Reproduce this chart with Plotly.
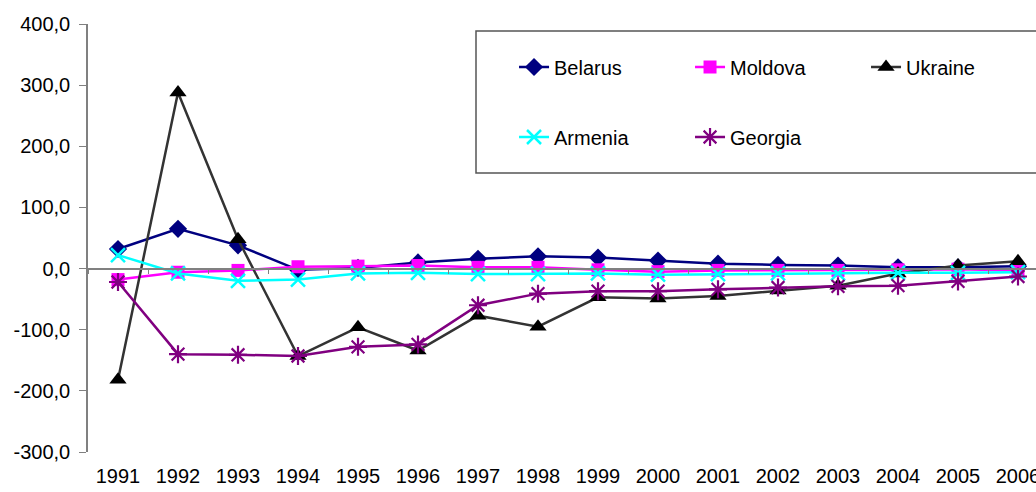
import plotly.graph_objects as go

years = [str(y) for y in range(1991, 2007)]
belarus = [32, 65, 38, -2, 1, 10, 16, 20, 18, 13, 8, 6, 5, 2, 2, 4]
moldova = [-18, -6, -3, 3, 4, 5, 2, 2, -2, -5, -3, -3, -3, -2, -1, -3]
ukraine = [-182, 288, 48, -143, -96, -134, -77, -95, -47, -49, -45, -36, -28, -8, 5, 12]
armenia = [22, -8, -20, -18, -8, -7, -9, -9, -8, -10, -9, -8, -8, -7, -7, -6]
georgia = [-22, -140, -141, -143, -128, -124, -60, -41, -37, -37, -34, -31, -29, -28, -21, -13]

y_ticks = [-300, -200, -100, 0, 100, 200, 300, 400]
y_ticktext = ["-300,0", "-200,0", "-100,0", "0,0", "100,0", "200,0", "300,0", "400,0"]

FONT = "Liberation Sans, Arial, sans-serif"
FS = 20

fig = go.Figure()

series = [
    ("Belarus", belarus, "#000080", dict(symbol="diamond", size=14, color="#000080"), "legend"),
    ("Moldova", moldova, "#FF00FF", dict(symbol="square", size=13, color="#FF00FF"), "legend"),
    ("Ukraine", ukraine, "#333333", dict(symbol="triangle-up", size=15, color="#000000"), "legend"),
    ("Armenia", armenia, "#00FFFF",
     dict(symbol="x-thin-open", size=14, color="#00FFFF", line=dict(width=2.5, color="#00FFFF")), "legend2"),
    ("Georgia", georgia, "#800080",
     dict(symbol="asterisk-open", size=15, color="#800080", line=dict(width=2.2, color="#800080")), "legend2"),
]

for name, vals, lc, marker, leg in series:
    fig.add_trace(go.Scatter(
        x=years, y=vals, name=name, mode="lines+markers",
        line=dict(color=lc, width=2.5), marker=marker, legend=leg,
        cliponaxis=False,
    ))

fig.update_layout(
    width=1036, height=492,
    margin=dict(l=88, r=0, t=24, b=40, autoexpand=False),
    paper_bgcolor="white", plot_bgcolor="white",
    font=dict(family=FONT, size=FS, color="#000000"),
    showlegend=True,
    legend=dict(orientation="h", x=0.4494, y=0.8995, xanchor="left", yanchor="middle",
                bgcolor="rgba(0,0,0,0)", entrywidthmode="pixels", entrywidth=131,
                font=dict(family=FONT, size=FS)),
    legend2=dict(orientation="h", x=0.4494, y=0.736, xanchor="left", yanchor="middle",
                 bgcolor="rgba(0,0,0,0)", entrywidthmode="pixels", entrywidth=131,
                 font=dict(family=FONT, size=FS)),
    xaxis=dict(type="category", range=[-0.5, 15.3], anchor="free", position=300 / 700,
               showline=True, linecolor="#808080", linewidth=1.5,
               ticks="outside", tickson="boundaries", ticklen=5, tickcolor="#808080",
               ticklabelstandoff=190, showgrid=False, zeroline=False, automargin=False,
               tickfont=dict(family=FONT, size=FS)),
    yaxis=dict(range=[-300, 400], tickvals=y_ticks, ticktext=y_ticktext,
               showline=True, linecolor="#808080", linewidth=1.5,
               ticks="outside", ticklen=7, tickcolor="#808080", ticklabelstandoff=5,
               showgrid=False, zeroline=False, automargin=False,
               tickfont=dict(family=FONT, size=FS)),
    shapes=[dict(type="rect", xref="paper", yref="paper",
                 x0=(476 - 88) / 948, x1=1.02, y0=(452 - 173) / 428, y1=(452 - 31) / 428,
                 line=dict(color="#555555", width=1.5), fillcolor="rgba(0,0,0,0)")],
)

fig.write_html(
    "out.html",
    config={"displayModeBar": False},
    post_script="document.documentElement.style.overflow='hidden';document.body.style.overflow='hidden';document.body.style.margin='0';",
)
